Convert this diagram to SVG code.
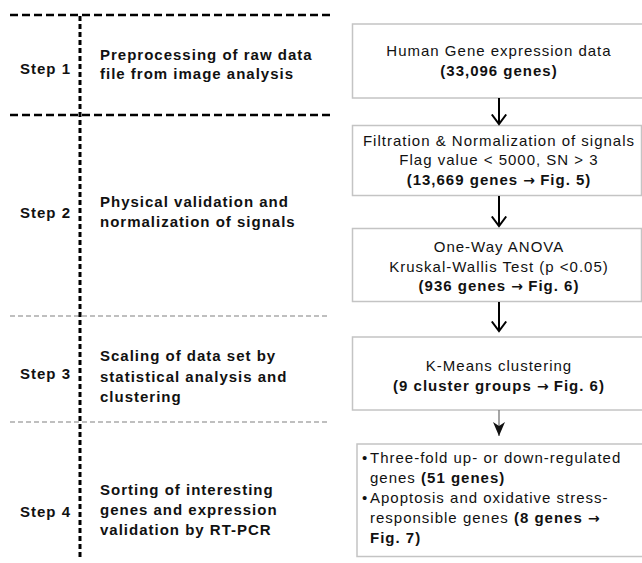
<svg xmlns="http://www.w3.org/2000/svg" width="642" height="563" viewBox="0 0 642 563">
<style>
  text { font-family: "Liberation Sans", Arial, sans-serif; fill: #111; }
  .step { font-size: 15px; font-weight: bold; letter-spacing: 1px; }
  .desc { font-size: 15px; font-weight: bold; letter-spacing: 1px; }
  .bt { font-size: 15px; letter-spacing: 1px; text-anchor: middle; }
  .bl { font-size: 15px; letter-spacing: 1px; }
  .b { font-weight: bold; }
  .ar { font-family: "DejaVu Sans", sans-serif; font-weight: bold; font-size: 14px; letter-spacing: 0; }
  .box { fill: #fff; stroke: #c4c4c4; stroke-width: 1.5; }
  .thick { stroke: #000; stroke-width: 2.6; stroke-dasharray: 8 4; fill: none; }
  .vert { stroke: #000; stroke-width: 3; stroke-dasharray: 5 3; fill: none; }
  .thin { stroke: #aaa; stroke-width: 1.3; stroke-dasharray: 5 3; fill: none; }
  .arr { stroke: #000; stroke-width: 2; fill: none; }
</style>
<defs>
  <marker id="open" viewBox="0 0 12 16" markerWidth="12" markerHeight="16" refX="10.5" refY="8" orient="auto" markerUnits="userSpaceOnUse">
    <path d="M1,0.8 L10.5,8 L1,15.2" fill="none" stroke="#000" stroke-width="2"/>
  </marker>
  <marker id="solid" viewBox="0 0 14 12" markerWidth="14" markerHeight="12" refX="14" refY="6" orient="auto" markerUnits="userSpaceOnUse">
    <path d="M0,0 L14,6 L0,12 L4,6 z" fill="#111"/>
  </marker>
</defs>
<rect width="642" height="563" fill="#fff"/>

<g id="grid">
  <line class="thick" x1="10" y1="15" x2="330" y2="15"/>
  <line class="thick" x1="10" y1="115" x2="330" y2="115"/>
  <line class="thin" x1="10" y1="316" x2="330" y2="316"/>
  <line class="thin" x1="10" y1="422" x2="330" y2="422"/>
  <line class="vert" x1="80" y1="16" x2="80" y2="558"/>
</g>

<g id="step1">
  <text class="step" x="20" y="74">Step 1</text>
  <text class="desc" x="100" y="60">Preprocessing of raw data</text>
  <text class="desc" x="100" y="79">file from image analysis</text>
</g>
<g id="step2">
  <text class="step" x="20" y="218">Step 2</text>
  <text class="desc" x="100" y="207">Physical validation and</text>
  <text class="desc" x="100" y="227">normalization of signals</text>
</g>
<g id="step3">
  <text class="step" x="20" y="379">Step 3</text>
  <text class="desc" x="100" y="361">Scaling of data set by</text>
  <text class="desc" x="100" y="382">statistical analysis and</text>
  <text class="desc" x="100" y="402">clustering</text>
</g>
<g id="step4">
  <text class="step" x="20" y="517">Step 4</text>
  <text class="desc" x="100" y="495">Sorting of interesting</text>
  <text class="desc" x="100" y="515">genes and expression</text>
  <text class="desc" x="100" y="535">validation by RT-PCR</text>
</g>

<g id="box1">
  <rect class="box" x="352.5" y="24" width="300" height="74"/>
  <text class="bt" x="499" y="56">Human Gene expression data</text>
  <text class="bt b" x="499" y="76">(33,096 genes)</text>
</g>
<g id="box2">
  <rect class="box" x="352.5" y="125.5" width="289" height="70"/>
  <text class="bt" x="499" y="146">Filtration &amp; Normalization of signals</text>
  <text class="bt" x="499" y="165">Flag value &lt; 5000, SN &gt; 3</text>
  <text class="bt b" x="499" y="185">(13,669 genes <tspan class="ar">→</tspan> Fig. 5)</text>
</g>
<g id="box3">
  <rect class="box" x="352.5" y="228.5" width="289" height="73"/>
  <text class="bt" x="499" y="252">One-Way ANOVA</text>
  <text class="bt" x="499" y="272">Kruskal-Wallis Test (p &lt;0.05)</text>
  <text class="bt b" x="499" y="291">(936 genes <tspan class="ar">→</tspan> Fig. 6)</text>
</g>
<g id="box4">
  <rect class="box" x="352.5" y="337" width="300" height="73"/>
  <text class="bt" x="499" y="371">K-Means clustering</text>
  <text class="bt b" x="499" y="391">(9 cluster groups <tspan class="ar">→</tspan> Fig. 6)</text>
</g>
<g id="box5">
  <rect class="box" x="357" y="444" width="300" height="112.5"/>
  <text class="bl" x="362" y="463">•</text>
  <text class="bl" x="370" y="463">Three-fold up- or down-regulated</text>
  <text class="bl" x="370" y="483">genes <tspan class="b">(51 genes)</tspan></text>
  <text class="bl" x="362" y="503">•</text>
  <text class="bl" x="370" y="503">Apoptosis and oxidative stress-</text>
  <text class="bl" x="370" y="523">responsible genes <tspan class="b">(8 genes <tspan class="ar">→</tspan></tspan></text>
  <text class="bl b" x="370" y="543">Fig. 7)</text>
</g>

<g id="connectors">
  <line class="arr" x1="499" y1="98" x2="499" y2="124" marker-end="url(#open)"/>
  <line class="arr" x1="499" y1="196" x2="499" y2="226" marker-end="url(#open)"/>
  <line class="arr" x1="499" y1="302" x2="499" y2="331" marker-end="url(#open)"/>
  <line x1="499" y1="410" x2="499" y2="436" stroke="#777" stroke-width="1.3" marker-end="url(#solid)"/>
</g>
</svg>
